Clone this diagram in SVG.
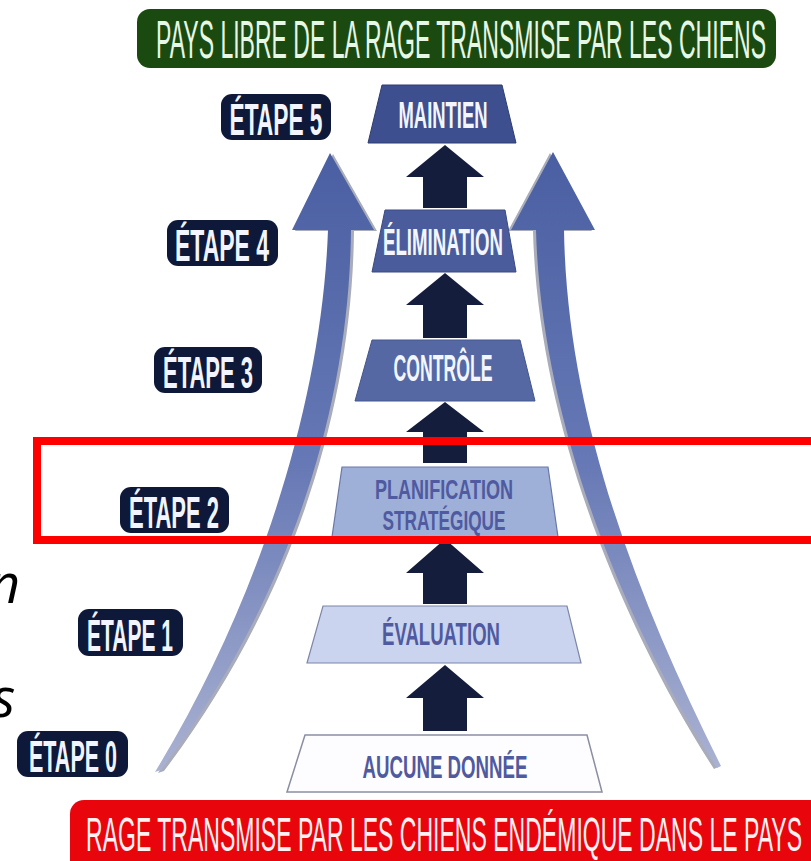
<svg xmlns="http://www.w3.org/2000/svg" width="811" height="861" viewBox="0 0 811 861">
  <defs>
    <linearGradient id="curveGrad" x1="0" y1="0" x2="0" y2="1">
      <stop offset="0" stop-color="#4a5fa2"/>
      <stop offset="0.5" stop-color="#6678b5"/>
      <stop offset="1" stop-color="#aab2d2"/>
    </linearGradient>
    <style>
      .cond { font-family: "Liberation Sans Narrow", "Liberation Sans", Arial, sans-serif; font-weight: bold; }
      .banner { font-family: "Liberation Sans Narrow", "Liberation Sans", Arial, sans-serif; font-weight: normal; }
      .label rect { fill: #0e1838; }
      .label text { fill: #f2f5ff; font-size: 45px; text-anchor: middle; }
      .stepDark text { fill: #f3f6ff; font-size: 36px; text-anchor: middle; }
      .stepLight text { fill: #4f5aa0; font-size: 32px; text-anchor: middle; }
      .stepLight text.two { font-size: 28px; }
      .blk { fill: #141e3c; }
      .shadow { fill: #a9acba; }
      .curve { fill: url(#curveGrad); }
    </style>
  </defs>
  <rect width="811" height="861" fill="#ffffff"/>

  <!-- curved background arrows -->
  <g id="curved-arrows">
    <path class="shadow" transform="translate(3,1)" d="M330,153 L374,230 L351,230 C349,420 282,610 161,770 L155,772 C260,600 322,400 328,230 L292,230 Z"/>
    <path class="curve" d="M330,153 L374,230 L351,230 C349,420 282,610 161,770 L155,772 C260,600 322,400 328,230 L292,230 Z"/>
    <path class="shadow" transform="translate(-3,1)" d="M553,152 L595,230 L564,230 C567,420 638,600 721,766 L717,768 C622,620 541,420 536,230 L511,230 Z"/>
    <path class="curve" d="M553,152 L595,230 L564,230 C567,420 638,600 721,766 L717,768 C622,620 541,420 536,230 L511,230 Z"/>
  </g>

  <!-- top banner -->
  <g id="banner-top">
    <rect x="137" y="9" width="639" height="59" rx="13" fill="#1b4a10"/>
    <text class="banner" x="461" y="58" font-size="53" fill="#e6f7e6" text-anchor="middle" textLength="610" lengthAdjust="spacingAndGlyphs">PAYS LIBRE DE LA RAGE TRANSMISE PAR LES CHIENS</text>
  </g>

  <!-- bottom banner -->
  <g id="banner-bottom">
    <rect x="70" y="800" width="760" height="80" rx="14" fill="#e8050c"/>
    <text class="banner" x="444" y="851" font-size="48" fill="#fff0f2" text-anchor="middle" textLength="716" lengthAdjust="spacingAndGlyphs">RAGE TRANSMISE PAR LES CHIENS ENDÉMIQUE DANS LE PAYS</text>
  </g>

  <!-- steps -->
  <g id="step5" class="stepDark">
    <path d="M382,85 L502,85 L516,143 L368,143 Z" fill="#3d4f8e" stroke="#2e3d72" stroke-width="1"/>
    <text class="cond" x="443" y="128" textLength="89" lengthAdjust="spacingAndGlyphs">MAINTIEN</text>
  </g>
  <g id="step4" class="stepDark">
    <path d="M385,210 L505,210 L516,272 L372,272 Z" fill="#4a5c9c" stroke="#3a4a82" stroke-width="1"/>
    <text class="cond" x="443" y="255" textLength="120" lengthAdjust="spacingAndGlyphs">ÉLIMINATION</text>
  </g>
  <g id="step3" class="stepDark">
    <path d="M372,340 L520,340 L535,401 L355,401 Z" fill="#5568a3" stroke="#44568e" stroke-width="1"/>
    <text class="cond" x="443" y="381" textLength="99" lengthAdjust="spacingAndGlyphs">CONTRÔLE</text>
  </g>
  <g id="step2" class="stepLight">
    <path d="M342,467 L548,467 L558,537 L332,537 Z" fill="#9eafd8" stroke="#6a78a8" stroke-width="1.2"/>
    <text class="cond two" x="444" y="499" textLength="138" lengthAdjust="spacingAndGlyphs">PLANIFICATION</text>
    <text class="cond two" x="444" y="530" textLength="123" lengthAdjust="spacingAndGlyphs">STRATÉGIQUE</text>
  </g>
  <g id="step1" class="stepLight">
    <path d="M323,606 L567,606 L581,663 L307,663 Z" fill="#cad4ee" stroke="#7d86a8" stroke-width="1.2"/>
    <text class="cond" x="441" y="645" textLength="118" lengthAdjust="spacingAndGlyphs">ÉVALUATION</text>
  </g>
  <g id="step0" class="stepLight">
    <path d="M305,735 L587,735 L602,792 L287,792 Z" fill="#fdfdff" stroke="#8a8ea2" stroke-width="1.5"/>
    <text class="cond" x="445" y="778" textLength="165" lengthAdjust="spacingAndGlyphs">AUCUNE  DONNÉE</text>
  </g>

  <!-- stage labels -->
  <g id="label5" class="label">
    <rect x="221" y="94" width="110" height="46" rx="11"/>
    <text class="cond" x="276" y="135" textLength="93" lengthAdjust="spacingAndGlyphs">ÉTAPE 5</text>
  </g>
  <g id="label4" class="label">
    <rect x="167" y="220" width="111" height="46" rx="11"/>
    <text class="cond" x="222" y="261" textLength="94" lengthAdjust="spacingAndGlyphs">ÉTAPE  4</text>
  </g>
  <g id="label3" class="label">
    <rect x="154" y="347" width="108" height="46" rx="11"/>
    <text class="cond" x="208" y="388" textLength="90" lengthAdjust="spacingAndGlyphs">ÉTAPE 3</text>
  </g>
  <g id="label2" class="label">
    <rect x="120" y="487" width="109" height="46" rx="11"/>
    <text class="cond" x="174" y="528" textLength="90" lengthAdjust="spacingAndGlyphs">ÉTAPE 2</text>
  </g>
  <g id="label1" class="label">
    <rect x="78" y="609" width="105" height="47" rx="11"/>
    <text class="cond" x="130" y="651" textLength="86" lengthAdjust="spacingAndGlyphs">ÉTAPE 1</text>
  </g>
  <g id="label0" class="label">
    <rect x="17" y="731" width="111" height="46" rx="11"/>
    <text class="cond" x="73" y="772" textLength="88" lengthAdjust="spacingAndGlyphs">ÉTAPE 0</text>
  </g>

  <!-- connectors: block arrows between steps -->
  <g id="connectors">
    <polygon class="blk" points="445,145 484,177 467,177 467,208 423,208 423,177 406,177"/>
    <polygon class="blk" points="445,273 484,305 467,305 467,338 423,338 423,305 406,305"/>
    <polygon class="blk" points="445,402 484,432 467,432 467,463 423,463 423,432 406,432"/>
    <polygon class="blk" points="445,539 484,573 467,573 467,604 423,604 423,573 406,573"/>
    <polygon class="blk" points="445,665 484,698 467,698 467,731 423,731 423,698 406,698"/>
  </g>

  <!-- cut-off italic fragments at left edge -->
  <g id="fragments" font-family="'Open Sans', 'Liberation Sans', sans-serif" font-style="italic" font-size="54" fill="#000000">
    <text x="-11" y="603">n</text>
    <text x="-8" y="717">s</text>
  </g>

  <!-- highlight box -->
  <g id="highlight">
    <rect x="37" y="441" width="790" height="99" fill="none" stroke="#ff0000" stroke-width="8"/>
  </g>
</svg>
